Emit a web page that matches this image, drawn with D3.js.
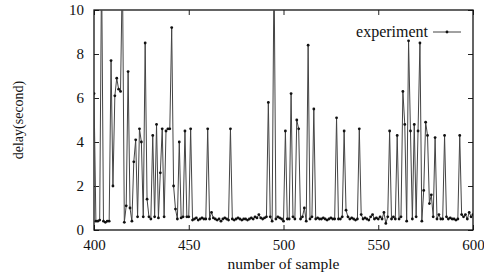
<!DOCTYPE html>
<html>
<head>
<meta charset="utf-8">
<script src="https://cdn.jsdelivr.net/npm/d3@7"></script>
<style>
  body { margin: 0; background: #fff; }
  text { font-family: "Liberation Serif", "DejaVu Serif", serif; fill: #111; }
</style>
</head>
<body>
<div id="chart"></div>
<script>
// delay per sample, samples 400..600
const start_sample = 400;
const delays = [
  6.2, 0.4, 0.4, 0.45, 12, 0.4, 0.35, 0.4, 0.4, 7.7,   // 400
  2.0, 6.1, 6.9, 6.4, 6.3, 12, 0.35, 1.1, 7.2, 1.0,    // 410
  0.4, 3.1, 4.1, 0.6, 4.6, 4.0, 0.6, 8.5, 1.4, 0.6,    // 420
  0.5, 4.3, 0.6, 4.8, 0.55, 2.6, 4.6, 0.6, 4.5, 4.6,   // 430
  4.6, 9.2, 2.0, 0.95, 0.5, 4.0, 0.55, 0.6, 4.5, 0.6,  // 440
  0.6, 4.6, 0.45, 0.5, 0.55, 0.45, 0.5, 0.55, 0.5, 0.5, // 450
  4.6, 0.5, 0.8, 0.55, 0.5, 0.45, 0.5, 0.4, 0.5, 0.55, // 460
  0.5, 0.45, 4.6, 0.5, 0.45, 0.5, 0.55, 0.5, 0.45, 0.5, // 470
  0.5, 0.45, 0.5, 0.55, 0.5, 0.6, 0.55, 0.7, 0.55, 0.5, // 480
  0.55, 0.6, 5.8, 0.6, 0.4, 12, 0.5, 0.6, 0.55, 0.5,   // 490
  0.4, 4.5, 0.5, 0.5, 6.2, 0.6, 0.5, 5.0, 4.6, 0.5,    // 500
  0.6, 1.0, 0.4, 8.4, 0.5, 0.6, 5.5, 0.5, 0.55, 0.5,   // 510
  0.5, 0.55, 0.5, 0.45, 0.5, 0.55, 0.5, 0.5, 5.1, 0.5, // 520
  0.5, 0.6, 4.5, 0.9, 0.6, 0.5, 0.55, 0.5, 0.45, 0.5,  // 530
  4.6, 0.7, 0.5, 0.55, 0.5, 0.45, 0.6, 0.7, 0.5, 0.55, // 540
  0.5, 0.6, 0.5, 0.8, 0.3, 0.6, 4.5, 0.5, 0.6, 0.5,    // 550
  4.3, 0.5, 0.6, 6.3, 4.8, 0.4, 8.6, 4.5, 0.5, 4.8,    // 560
  0.6, 4.5, 8.5, 0.4, 1.8, 4.9, 4.3, 1.2, 1.6, 0.6,    // 570
  4.2, 0.5, 0.7, 0.5, 0.5, 4.3, 0.6, 0.5, 0.55, 0.5,   // 580
  0.5, 0.45, 0.5, 4.3, 0.7, 0.6, 0.7, 0.5, 0.8, 0.6,   // 590
  0.7                                                  // 600
];
const x_ticks = [400, 450, 500, 550, 600];
const y_ticks = [0, 2, 4, 6, 8, 10];
const legend_label = "experiment";

var data = delays.map(function (d, i) { return { x: start_sample + i, y: d }; });

var width = 484, height = 274;
var margin = { left: 94, right: 11, top: 10, bottom: 44 };

var svg = d3.select("#chart").append("svg")
  .attr("width", width).attr("height", height);

var x = d3.scaleLinear().domain([400, 600]).range([margin.left, width - margin.right]);
var y = d3.scaleLinear().domain([0, 10]).range([height - margin.bottom, margin.top]);

// clip so the off-scale spikes are cut at the top border
svg.append("clipPath").attr("id", "plotclip")
  .append("rect")
  .attr("x", x(400)).attr("y", y(10))
  .attr("width", x(600) - x(400)).attr("height", y(0) - y(10));

// axes, ticks pointing inward, mirrored on top and right
var tickLen = 5;
svg.append("g")
  .attr("transform", "translate(0," + y(0) + ")")
  .call(d3.axisBottom(x).tickValues(x_ticks).tickSizeInner(-tickLen).tickSizeOuter(0).tickPadding(9))
  .call(function (g) { g.select(".domain").remove(); })
  .selectAll("text").style("font-size", "15px");
svg.append("g")
  .attr("transform", "translate(0," + y(10) + ")")
  .call(d3.axisTop(x).tickValues(x_ticks).tickSizeInner(-tickLen).tickSizeOuter(0).tickFormat(""))
  .call(function (g) { g.select(".domain").remove(); });
svg.append("g")
  .attr("transform", "translate(" + x(400) + ",0)")
  .call(d3.axisLeft(y).tickValues(y_ticks).tickSizeInner(-tickLen).tickSizeOuter(0).tickPadding(10))
  .call(function (g) { g.select(".domain").remove(); })
  .selectAll("text").style("font-size", "15px");
svg.append("g")
  .attr("transform", "translate(" + x(600) + ",0)")
  .call(d3.axisRight(y).tickValues(y_ticks).tickSizeInner(-tickLen).tickSizeOuter(0).tickFormat(""))
  .call(function (g) { g.select(".domain").remove(); });

svg.selectAll(".tick line").attr("stroke", "#222");
svg.selectAll(".tick text").attr("fill", "#111").style("font-family", "Liberation Serif, serif");

// border
svg.append("rect")
  .attr("x", x(400)).attr("y", y(10))
  .attr("width", x(600) - x(400)).attr("height", y(0) - y(10))
  .attr("fill", "none").attr("stroke", "#111").attr("stroke-width", 1.3);

// data line + point markers
var lineFunc = d3.line()
  .x(function (d) { return x(d.x); })
  .y(function (d) { return y(d.y); });

var plot = svg.append("g").attr("clip-path", "url(#plotclip)");
plot.append("path")
  .attr("d", lineFunc(data))
  .attr("stroke", "#444")
  .attr("stroke-width", 1)
  .attr("fill", "none");
plot.selectAll("circle").data(data).enter().append("circle")
  .attr("cx", function (d) { return x(d.x); })
  .attr("cy", function (d) { return y(d.y); })
  .attr("r", 1.4)
  .attr("fill", "#111");

// legend
svg.append("text")
  .attr("x", 428).attr("y", 37)
  .attr("text-anchor", "end")
  .style("font-size", "16px")
  .text(legend_label);
svg.append("line")
  .attr("x1", 433).attr("x2", 461).attr("y1", 32).attr("y2", 32)
  .attr("stroke", "#444").attr("stroke-width", 1);
svg.append("circle")
  .attr("cx", 447).attr("cy", 32).attr("r", 1.4).attr("fill", "#111");

// axis titles
svg.append("text")
  .attr("x", (x(400) + x(600)) / 2).attr("y", 269)
  .attr("text-anchor", "middle")
  .style("font-size", "15.5px")
  .text("number of sample");
svg.append("text")
  .attr("transform", "translate(23," + ((y(0) + y(10)) / 2) + ") rotate(-90)")
  .attr("text-anchor", "middle")
  .style("font-size", "14px")
  .text("delay(second)");
</script>
</body>
</html>
